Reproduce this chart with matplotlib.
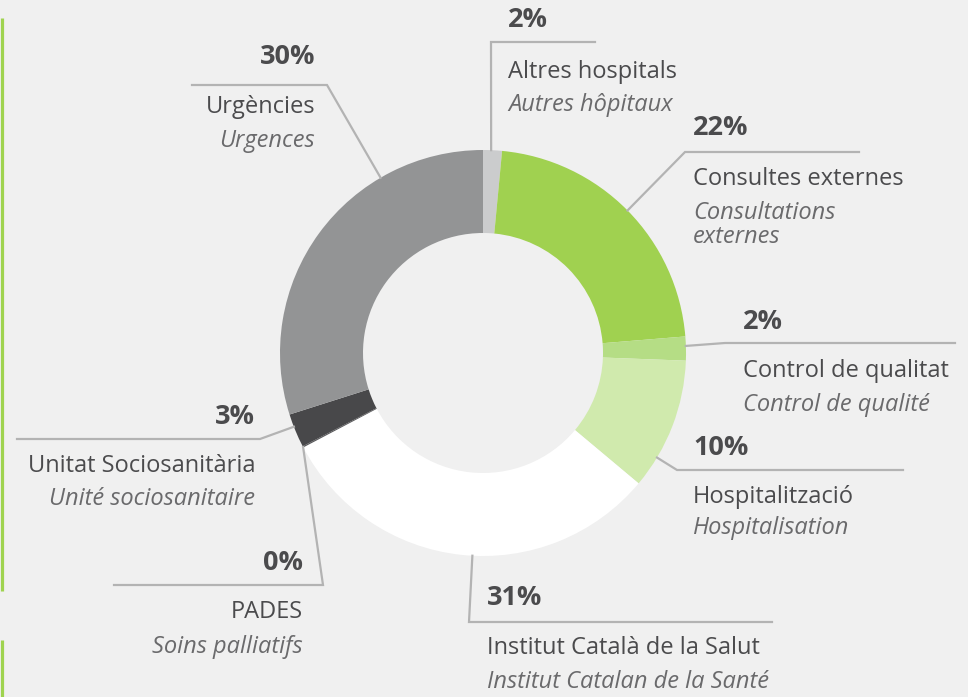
import numpy as np
import matplotlib
matplotlib.use('Agg')
import matplotlib.pyplot as plt

# ─────────────────────────────────────────
# DATA
# ─────────────────────────────────────────

names_ca = ['Altres hospitals', 'Consultes externes', 'Control de qualitat',
            'Hospitalització', 'Institut Català de la Salut', 'PADES',
            'Unitat Sociosanitària', 'Urgències']
names_fr = ['Autres hôpitaux', 'Consultations\nexternes', 'Control de qualité',
            'Hospitalisation', 'Institut Catalan de la Santé', 'Soins palliatifs',
            'Unité sociosanitaire', 'Urgences']
shares = [1.5, 22.2, 1.9, 10.5, 31.2, 0.1, 2.7, 29.9]
pct_labels = ['2%', '22%', '2%', '10%', '31%', '0%', '3%', '30%']
colors = ['#cbcccd', '#a0d150', '#b5dd85', '#d0eaad', '#ffffff',
          '#5a5a5c', '#48484a', '#939495']

# ─────────────────────────────────────────
# LAYOUT (pixel coords, y pointing down)
# ─────────────────────────────────────────

BG = '#f0f0f0'
LINE = '#b3b3b3'
TXT = '#4b4b4d'
TXT_IT = '#6a6a6c'
cx, cy, r_out, ring = 483, 353, 203, 83

# leader: anchor angle (deg clockwise from top), elbow, end
leaders = [
    (2.3,   (491, 42),  (595, 42)),
    (45.4,  (685, 152), (859, 152)),
    (88.0,  (725, 343), (955, 343)),
    (121.0, (677, 470), (903, 470)),
    (183.0, (469, 622), (772, 622)),
    (242.4, (323, 585), (114, 585)),
    (248.7, (260, 439), (17, 439)),
    (329.7, (327, 85),  (192, 85)),
]
# text block: x, align, y of pct / name / french
blocks = [
    (508, 'left',  20, 72, 105),
    (693, 'left',  128, 179, 225),
    (743, 'left',  322, 371, 405),
    (693, 'left',  448, 497, 528),
    (487, 'left',  598, 648, 682),
    (303, 'right', 563, 612, 647),
    (255, 'right', 417, 466, 499),
    (315, 'right', 57, 107, 141),
]

plt.rcParams['font.family'] = ['Open Sans', 'DejaVu Sans']

fig = plt.figure(figsize=(9.68, 6.97), dpi=100, facecolor=BG)
ax = fig.add_axes([0, 0, 1, 1])
ax.set_facecolor(BG)

# donut: clockwise from 12 o'clock (y axis is inverted)
ax.pie(shares, colors=colors, center=(cx, cy), radius=r_out,
       startangle=-90, counterclock=True,
       wedgeprops=dict(width=ring, linewidth=0))
ax.set_xlim(0, 968)
ax.set_ylim(697, 0)
ax.set_aspect('equal')
ax.axis('off')

# green side bar
ax.plot([1.6, 1.6], [18, 591], color='#9fd34f', lw=2.3, solid_capstyle='butt')
ax.plot([1.6, 1.6], [640, 697], color='#9fd34f', lw=2.3, solid_capstyle='butt')

for (ang, elbow, end) in leaders:
    a = np.radians(ang)
    x0 = cx + r_out * np.sin(a)
    y0 = cy - r_out * np.cos(a)
    ax.plot([x0, elbow[0], end[0]], [y0, elbow[1], end[1]],
            color=LINE, lw=1.6, solid_joinstyle='miter', zorder=1)

for i, (x, ha, yp, yn, yf) in enumerate(blocks):
    ax.text(x, yp, pct_labels[i], ha=ha, va='center', fontsize=19.5,
            fontweight='bold', color=TXT)
    ax.text(x, yn, names_ca[i], ha=ha, va='center', fontsize=17,
            color=TXT)
    ax.text(x, yf, names_fr[i], ha=ha, va='center', fontsize=17,
            style='italic', color=TXT_IT, linespacing=1.02)

fig.savefig('out.png', dpi=100, facecolor=BG)
